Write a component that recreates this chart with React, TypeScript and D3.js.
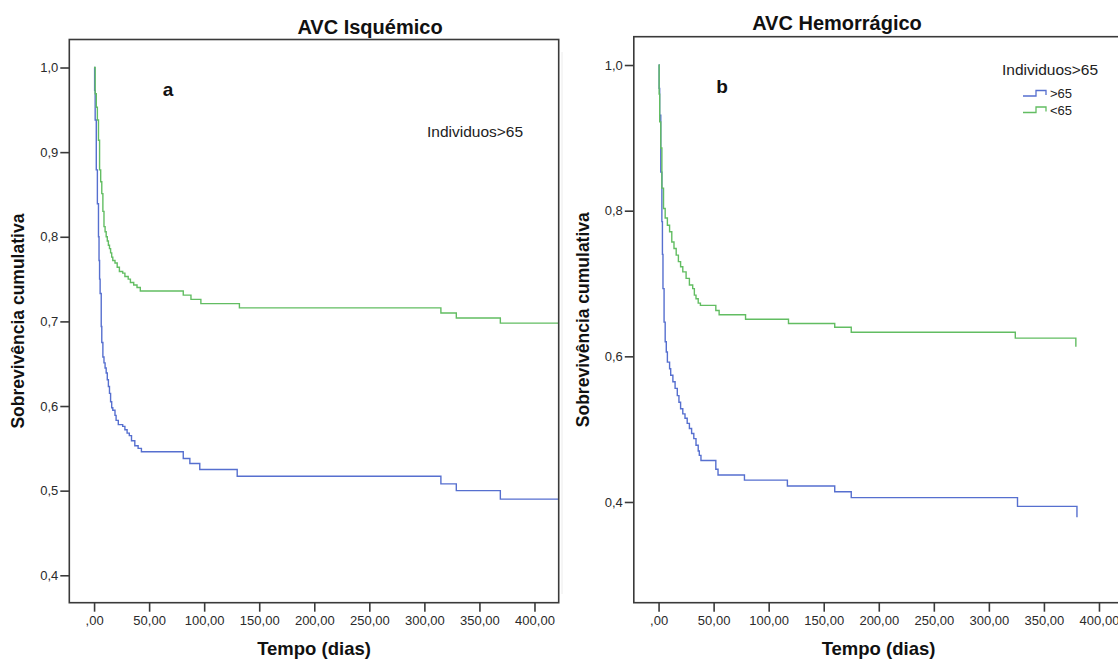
import React, { useRef, useEffect } from 'react';
import * as d3 from 'd3';

// Kaplan-Meier steps: [dias, sobrevivência]
const ischemicOver65: [number, number][] = [
  [0, 1.0], [0.5, 0.973], [1, 0.938], [2, 0.879], [3, 0.839], [4, 0.8], [4.5, 0.772], [5, 0.75],
  [5.5, 0.733], [6.5, 0.694], [7, 0.675], [8, 0.658], [9, 0.651], [10, 0.645], [11, 0.639], [12, 0.631],
  [13, 0.623], [14, 0.615], [15, 0.605], [16, 0.598], [17, 0.595], [19, 0.589], [20, 0.583], [22, 0.578],
  [26, 0.576], [28, 0.572], [30, 0.568], [32, 0.565], [34, 0.559], [37, 0.553], [40, 0.55], [43, 0.546],
  [81, 0.538], [87, 0.532], [96, 0.525], [130, 0.517], [315, 0.508], [329, 0.5], [369, 0.49], [422, 0.49],
];

const ischemicUnder65: [number, number][] = [
  [0, 1.0], [1, 0.969], [2, 0.953], [3, 0.938], [4, 0.914], [5, 0.879], [6, 0.865], [7, 0.851],
  [8, 0.83], [9, 0.812], [10, 0.806], [11, 0.8], [12, 0.795], [13, 0.79], [14, 0.786], [15, 0.781],
  [16, 0.776], [17, 0.772], [19, 0.769], [21, 0.764], [23, 0.759], [26, 0.757], [28, 0.753], [31, 0.75],
  [33, 0.746], [36, 0.743], [39, 0.74], [42, 0.736], [81, 0.731], [88, 0.726], [97, 0.721], [132, 0.716],
  [315, 0.71], [329, 0.704], [369, 0.698], [422, 0.698],
];

const hemorrhagicOver65: [number, number][] = [
  [0, 1.0], [0.5, 0.968], [1, 0.931], [2, 0.853], [3, 0.785], [3.5, 0.74], [4, 0.693], [5, 0.647],
  [6, 0.62], [7, 0.606], [8, 0.592], [10, 0.583], [11, 0.574], [13, 0.565], [15, 0.556], [17, 0.546],
  [18.5, 0.537], [20, 0.528], [22, 0.521], [24, 0.515], [26, 0.508], [28, 0.501], [30, 0.494], [32, 0.487],
  [34, 0.478], [36, 0.47], [37, 0.464], [38.5, 0.457], [52, 0.445], [54, 0.437], [78, 0.43], [117, 0.422],
  [160, 0.414], [175, 0.406], [326, 0.394], [380, 0.379],
];

const hemorrhagicUnder65: [number, number][] = [
  [0, 1.0], [0.5, 0.96], [1, 0.922], [2, 0.886], [3, 0.831], [4.5, 0.803], [6, 0.79], [8, 0.78],
  [10, 0.771], [12, 0.757], [14, 0.748], [16, 0.739], [18, 0.73], [20, 0.723], [22, 0.716], [25, 0.707],
  [28, 0.698], [31, 0.693], [32.5, 0.684], [34, 0.679], [36, 0.673], [38, 0.67], [52, 0.663], [55, 0.657],
  [79, 0.651], [118, 0.645], [160, 0.64], [175, 0.633], [324, 0.625], [379, 0.613],
];

const xTicks = [0, 50, 100, 150, 200, 250, 300, 350, 400];
const yTicksA = [0.4, 0.5, 0.6, 0.7, 0.8, 0.9, 1.0];
const yTicksB = [0.4, 0.6, 0.8, 1.0];
const groups = ['>65', '<65'];

const BLUE = '#566fcf';
const GREEN = '#62bd62';
const FONT = '"Liberation Sans", Arial, sans-serif';

const fmtY = (v: number) => v.toFixed(1).replace('.', ',');
const fmtX = (v: number) => (v === 0 ? ',00' : v.toFixed(2).replace('.', ','));

function drawPanel(svg: d3.Selection<SVGSVGElement, unknown, null, undefined>, opts: any) {
  const { id, left, top, width, bottom, yDomain, yTicks, over, under, title, titleX, titleY, letter, letterX, noteX, noteY } = opts;

  const x = d3.scaleLinear().domain([-22.5, 422]).range([left, left + width]);
  const y = d3.scaleLinear().domain(yDomain).range([bottom, top]);

  svg.append('clipPath').attr('id', id)
    .append('rect').attr('x', left).attr('y', top).attr('width', width).attr('height', bottom - top);

  const line = d3.line<[number, number]>()
    .x(d => x(d[0]))
    .y(d => y(d[1]))
    .curve(d3.curveStepAfter);

  const g = svg.append('g').attr('clip-path', `url(#${id})`);
  g.append('path').datum(over).attr('d', line).attr('fill', 'none').attr('stroke', BLUE).attr('stroke-width', 1.4);
  g.append('path').datum(under).attr('d', line).attr('fill', 'none').attr('stroke', GREEN).attr('stroke-width', 1.4);

  // frame
  svg.append('rect')
    .attr('x', left).attr('y', top).attr('width', width).attr('height', bottom - top)
    .attr('fill', 'none').attr('stroke', '#3a3a3a').attr('stroke-width', 1.6);

  const xAxis = svg.append('g')
    .attr('transform', `translate(0,${bottom})`)
    .call(d3.axisBottom(x).tickValues(xTicks).tickFormat(d => fmtX(+d)).tickSize(9).tickPadding(4));
  const yAxis = svg.append('g')
    .attr('transform', `translate(${left},0)`)
    .call(d3.axisLeft(y).tickValues(yTicks).tickFormat(d => fmtY(+d)).tickSize(9).tickPadding(2));

  [xAxis, yAxis].forEach(a => {
    a.select('.domain').remove();
    a.selectAll('line').attr('stroke', '#3a3a3a').attr('stroke-width', 1.6);
    a.selectAll('text').attr('font-family', FONT).attr('font-size', 13).attr('fill', '#2a2a2a');
  });

  svg.append('text').text(title)
    .attr('x', titleX).attr('y', titleY).attr('text-anchor', 'middle')
    .attr('font-family', FONT).attr('font-size', 20).attr('font-weight', 'bold').attr('fill', '#111');

  svg.append('text').text(letter)
    .attr('x', letterX).attr('y', top + 56).attr('text-anchor', 'middle')
    .attr('font-family', FONT).attr('font-size', 19).attr('font-weight', 'bold').attr('fill', '#111');

  svg.append('text').text('Individuos>65')
    .attr('x', noteX).attr('y', noteY)
    .attr('font-family', FONT).attr('font-size', 15.5).attr('fill', '#222');

  svg.append('text').text('Tempo (dias)')
    .attr('x', left + width / 2).attr('y', 655).attr('text-anchor', 'middle')
    .attr('font-family', FONT).attr('font-size', 18.5).attr('font-weight', 'bold').attr('fill', '#111');

  svg.append('text').text('Sobrevivência cumulativa')
    .attr('transform', `translate(${left - 45},${(top + bottom) / 2}) rotate(-90)`)
    .attr('text-anchor', 'middle')
    .attr('font-family', FONT).attr('font-size', 17.5).attr('font-weight', 'bold').attr('fill', '#111');

  return { x, y };
}

function SurvivalCharts() {
  const svgRef = useRef<SVGSVGElement>(null);

  useEffect(() => {
    const svg = d3.select(svgRef.current!);
    svg.selectAll('*').remove();

    // faint divider between the two exported images
    svg.append('line').attr('x1', 562).attr('x2', 562).attr('y1', 52).attr('y2', 594)
      .attr('stroke', '#ececec').attr('stroke-width', 1);

    drawPanel(svg, {
      id: 'clipA', left: 69.3, top: 39.5, width: 489.4, bottom: 602.7,
      yDomain: [0.3676, 1.0331], yTicks: yTicksA,
      over: ischemicOver65, under: ischemicUnder65,
      title: 'AVC Isquémico', titleX: 370, titleY: 34,
      letter: 'a', letterX: 168, noteX: 427, noteY: 137,
    });

    drawPanel(svg, {
      id: 'clipB', left: 633.8, top: 36.7, width: 489.4, bottom: 602.7,
      yDomain: [0.2617, 1.0389], yTicks: yTicksB,
      over: hemorrhagicOver65, under: hemorrhagicUnder65,
      title: 'AVC Hemorrágico', titleX: 837, titleY: 30,
      letter: 'b', letterX: 722, noteX: 1002, noteY: 75,
    });

    // legend
    const legend = svg.append('g').attr('transform', 'translate(1023,96)');
    groups.forEach((name, i) => {
      const row = legend.append('g').attr('transform', `translate(0,${i * 16.5})`);
      row.append('path')
        .attr('d', 'M0,0 H13 V-5.5 H23 V-1')
        .attr('fill', 'none').attr('stroke', i === 0 ? BLUE : GREEN).attr('stroke-width', 1.3);
      row.append('text').text(name)
        .attr('x', 27).attr('y', 2)
        .attr('font-family', FONT).attr('font-size', 13).attr('fill', '#222');
    });
  }, []);

  return <svg ref={svgRef} width={1118} height={660} style={{ position: 'absolute', left: 0, top: 0, background: '#fff' }} />;
}

export default function App() {
  return <SurvivalCharts />;
}
